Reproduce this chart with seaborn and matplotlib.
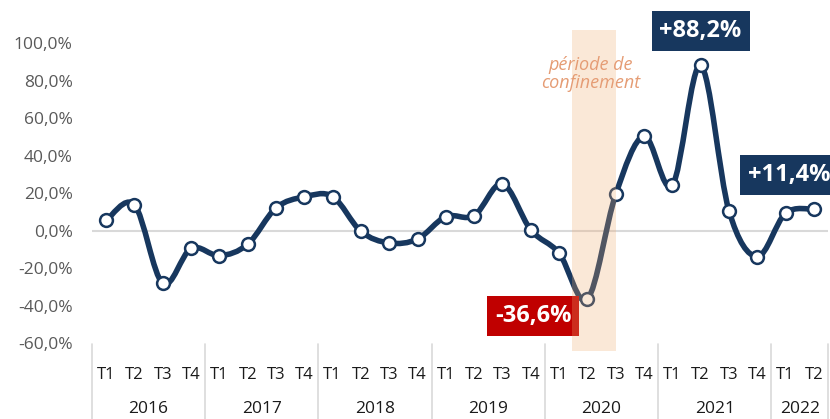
import numpy as np
import pandas as pd
import seaborn as sns
import matplotlib.pyplot as plt
from matplotlib.path import Path
from matplotlib.patches import PathPatch, Rectangle
import matplotlib.transforms as mtransforms

years = ['2016', '2017', '2018', '2019', '2020', '2021', '2022']
quarters_per_year = [4, 4, 4, 4, 4, 4, 2]
values = [5.4, 13.8, -28.2, -9.5,
          -13.4, -7.3, 12.1, 18.0,
          18.2, -0.4, -6.6, -4.5,
          7.5, 8.0, 25.0, 0.4,
          -12.0, -36.6, 19.3, 50.4,
          24.1, 88.2, 10.7, -13.9,
          9.3, 11.4]
yticks = [-60, -40, -20, 0, 20, 40, 60, 80, 100]

quarters = []
year_col = []
for y, n in zip(years, quarters_per_year):
    for q in range(n):
        quarters.append('T%d' % (q + 1))
        year_col.append(y)
df = pd.DataFrame({'annee': year_col, 'trim': quarters, 'val': values})
df['i'] = np.arange(len(df))

navy = '#17375e'
sns.set_theme(style='white')
plt.rcParams['font.family'] = ['Open Sans', 'DejaVu Sans']

fig = plt.figure(figsize=(8.3, 4.19), dpi=100)
ax = fig.add_axes([92 / 830, 76 / 419, 736 / 830, 299.7 / 419])
ax.set_xlim(-0.5, len(df) - 0.5)
ax.set_ylim(-60, 100)

# ligne lissée (style Excel) construite à partir des points
P = df[['i', 'val']].to_numpy(dtype=float)
n = len(P)
verts = [P[0]]
codes = [Path.MOVETO]
for k in range(n - 1):
    pp = P[max(k - 1, 0)]
    pn = P[min(k + 2, n - 1)]
    verts += [P[k] + (P[k + 1] - pp) / 6, P[k + 1] - (pn - P[k]) / 6, P[k + 1]]
    codes += [Path.CURVE4] * 3
ax.add_patch(PathPatch(Path(verts, codes), fill=False, edgecolor=navy, lw=4,
                       capstyle='round', joinstyle='round', zorder=3))

sns.scatterplot(data=df, x='i', y='val', ax=ax, s=85, color='white',
                edgecolor=navy, linewidth=1.8, zorder=4, clip_on=False)

ax.axhline(0, color='#d9d9d9', lw=1.5, zorder=1)

# étiquettes
i_max = int(np.argmax(values))
box = dict(boxstyle='square,pad=0.33', ec='none')
ax.text(15.08, -45.6, '-36,6%', ha='center', va='center', color='white',
        fontsize=17, fontweight='bold', zorder=5, bbox=dict(box, fc='#c00000'))
ax.text(i_max, 106.5, '+88,2%', ha='center', va='center', color='white',
        fontsize=17, fontweight='bold', zorder=5, clip_on=False,
        bbox=dict(box, fc=navy))
ax.text(22.68, 29.6, '+11,4%', ha='left', va='center', color='white',
        fontsize=17, fontweight='bold', zorder=5, clip_on=False,
        bbox=dict(box, fc=navy))

# période de confinement
ax.add_patch(Rectangle((16.46, -64.1), 1.56, 171.4, fc='#f0aa6e', ec='none',
                       alpha=0.27, zorder=6, clip_on=False))
ax.text(17.13, 83.6, 'période de\nconfinement', ha='center', va='center',
        color='#e59c74', fontsize=13, style='italic', linespacing=1.05, zorder=7)

# axes
ax.set_yticks(yticks)
ax.set_yticklabels(['%d,0%%' % v for v in yticks], color='#595959', fontsize=12.5)
ax.tick_params(axis='y', length=0, pad=14)
ax.set_xticks(df['i'])
ax.set_xticklabels(df['trim'], color='#1a1a1a', fontsize=12)
ax.tick_params(axis='x', length=0, pad=17)
ax.set_xlabel('')
ax.set_ylabel('')
sns.despine(ax=ax, left=True, bottom=True)

trans = mtransforms.blended_transform_factory(ax.transData, ax.transAxes)
bounds = np.concatenate([[0], np.cumsum(quarters_per_year)]) - 0.5
for b in bounds:
    ax.plot([b, b], [-0.005, -0.3], color='#d9d9d9', lw=1.2, transform=trans,
            clip_on=False)
for y, a, b in zip(years, bounds[:-1], bounds[1:]):
    ax.text((a + b) / 2, -0.22, y, ha='center', va='center', fontsize=12.5,
            color='#1a1a1a', transform=trans)

fig.savefig('out.png', dpi=100)
